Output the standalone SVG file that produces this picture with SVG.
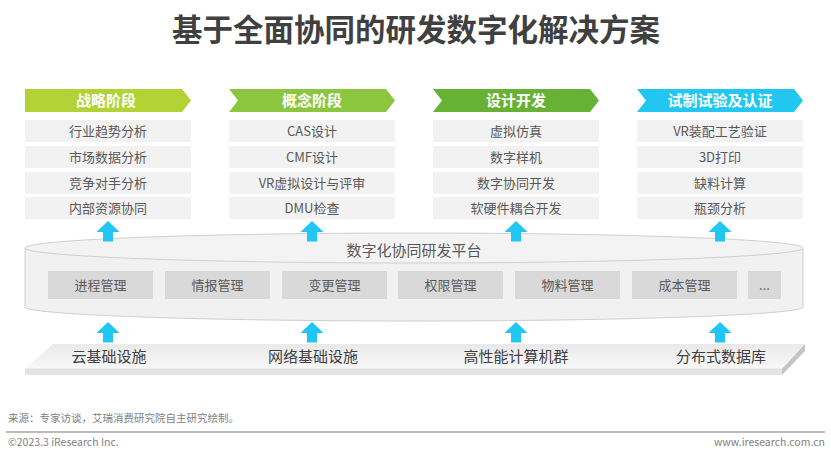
<svg xmlns="http://www.w3.org/2000/svg" xmlns:xlink="http://www.w3.org/1999/xlink" width="831" height="460" viewBox="0 0 831 460">
<style>
text{font-family:"Noto Sans CJK SC","Noto Sans",sans-serif}
.title{font-size:30.5px;font-weight:bold;fill:#404040}
.hd{font-size:15px;font-weight:bold;fill:#fff}
.bx{fill:#f2f2f2}
.bt{font-size:13px;fill:#595959}
.mb{fill:#d9d9d9}
.arr{fill:#1fc7f2}
.sl{font-size:15px;fill:#404040}
.ft{font-size:10.5px;fill:#7f7f7f}
</style>
<defs>
<path id="up" d="M0,0 L11.5,11 L5,11 L5,20.5 L-5,20.5 L-5,11 L-11.5,11 Z"/>
<linearGradient id="slab" x1="0" y1="0" x2="0" y2="1">
<stop offset="0" stop-color="#e9e9e9"/>
<stop offset="1" stop-color="#f8f8f8"/>
</linearGradient>
</defs>
<rect width="831" height="460" fill="#fff"/>
<text class="title" x="416" y="41" text-anchor="middle">基于全面协同的研发数字化解决方案</text>

<g id="col1">
<path d="M25,89 H182 L191,100.5 L182,112 H25 Z" fill="#b3d235"/>
<text class="hd" x="106" y="106" text-anchor="middle">战略阶段</text>
<rect class="bx" x="25" y="120" width="166" height="22"/>
<rect class="bx" x="25" y="146" width="166" height="22"/>
<rect class="bx" x="25" y="172" width="166" height="22"/>
<rect class="bx" x="25" y="197" width="166" height="22"/>
<text class="bt" x="108" y="136" text-anchor="middle">行业趋势分析</text>
<text class="bt" x="108" y="162" text-anchor="middle">市场数据分析</text>
<text class="bt" x="108" y="188" text-anchor="middle">竞争对手分析</text>
<text class="bt" x="108" y="213" text-anchor="middle">内部资源协同</text>
</g>
<g id="col2">
<path d="M229,89 H386 L395,100.5 L386,112 H229 L238,100.5 Z" fill="#8cc63f"/>
<text class="hd" x="312" y="106" text-anchor="middle">概念阶段</text>
<rect class="bx" x="229" y="120" width="166" height="22"/>
<rect class="bx" x="229" y="146" width="166" height="22"/>
<rect class="bx" x="229" y="172" width="166" height="22"/>
<rect class="bx" x="229" y="197" width="166" height="22"/>
<text class="bt" x="312" y="136" text-anchor="middle">CAS设计</text>
<text class="bt" x="312" y="162" text-anchor="middle">CMF设计</text>
<text class="bt" x="312" y="188" text-anchor="middle">VR虚拟设计与评审</text>
<text class="bt" x="312" y="213" text-anchor="middle">DMU检查</text>
</g>
<g id="col3">
<path d="M433,89 H590 L599,100.5 L590,112 H433 L442,100.5 Z" fill="#67b135"/>
<text class="hd" x="516" y="106" text-anchor="middle">设计开发</text>
<rect class="bx" x="433" y="120" width="166" height="22"/>
<rect class="bx" x="433" y="146" width="166" height="22"/>
<rect class="bx" x="433" y="172" width="166" height="22"/>
<rect class="bx" x="433" y="197" width="166" height="22"/>
<text class="bt" x="516" y="136" text-anchor="middle">虚拟仿真</text>
<text class="bt" x="516" y="162" text-anchor="middle">数字样机</text>
<text class="bt" x="516" y="188" text-anchor="middle">数字协同开发</text>
<text class="bt" x="516" y="213" text-anchor="middle">软硬件耦合开发</text>
</g>
<g id="col4">
<path d="M637,89 H794 L803,100.5 L794,112 H637 L646,100.5 Z" fill="#22c7f1"/>
<text class="hd" x="720" y="106" text-anchor="middle">试制试验及认证</text>
<rect class="bx" x="637" y="120" width="166" height="22"/>
<rect class="bx" x="637" y="146" width="166" height="22"/>
<rect class="bx" x="637" y="172" width="166" height="22"/>
<rect class="bx" x="637" y="197" width="166" height="22"/>
<text class="bt" x="720" y="136" text-anchor="middle">VR装配工艺验证</text>
<text class="bt" x="720" y="162" text-anchor="middle">3D打印</text>
<text class="bt" x="720" y="188" text-anchor="middle">缺料计算</text>
<text class="bt" x="720" y="213" text-anchor="middle">瓶颈分析</text>
</g>

<g id="platform">
<path d="M25,248 V307 A389,14 0 0 0 803,307 V248 Z" fill="#f1f1f1" stroke="#cfcfcf" stroke-width="1"/>
<ellipse cx="414" cy="248" rx="389" ry="15" fill="#f3f3f3" stroke="#cfcfcf" stroke-width="1"/>
<text x="414" y="256" font-size="15" fill="#595959" text-anchor="middle">数字化协同研发平台</text>
<rect class="mb" x="48" y="271" width="105" height="28"/>
<rect class="mb" x="165" y="271" width="105" height="28"/>
<rect class="mb" x="282" y="271" width="105" height="28"/>
<rect class="mb" x="398" y="271" width="105" height="28"/>
<rect class="mb" x="515" y="271" width="105" height="28"/>
<rect class="mb" x="632" y="271" width="105" height="28"/>
<rect class="mb" x="748" y="271" width="33" height="28"/>
<text class="bt" x="100.5" y="290" text-anchor="middle">进程管理</text>
<text class="bt" x="217.5" y="290" text-anchor="middle">情报管理</text>
<text class="bt" x="334.5" y="290" text-anchor="middle">变更管理</text>
<text class="bt" x="450.5" y="290" text-anchor="middle">权限管理</text>
<text class="bt" x="567.5" y="290" text-anchor="middle">物料管理</text>
<text class="bt" x="684.5" y="290" text-anchor="middle">成本管理</text>
<text class="bt" x="764.5" y="290" text-anchor="middle">...</text>
</g>

<g id="infrastructure">
<path d="M53,344 H805 L782,369 H25 Z" fill="url(#slab)"/>
<rect x="25" y="369" width="757" height="6" fill="#e4e4e4"/>
<path d="M782,369 L805,344 V351 L782,375 Z" fill="#c4c4c4"/>
<line x1="25" y1="369" x2="782" y2="369" stroke="#dadada" stroke-width="0.8"/>
<text class="sl" x="109" y="362" text-anchor="middle">云基础设施</text>
<text class="sl" x="313" y="362" text-anchor="middle">网络基础设施</text>
<text class="sl" x="516" y="362" text-anchor="middle">高性能计算机群</text>
<text class="sl" x="721" y="362" text-anchor="middle">分布式数据库</text>
</g>

<g id="connectors">
<use href="#up" class="arr" x="108" y="221"/>
<use href="#up" class="arr" x="312" y="221"/>
<use href="#up" class="arr" x="516" y="221"/>
<use href="#up" class="arr" x="720" y="221"/>
<use href="#up" class="arr" x="108" y="322"/>
<use href="#up" class="arr" x="312" y="322"/>
<use href="#up" class="arr" x="516" y="322"/>
<use href="#up" class="arr" x="720" y="322"/>
</g>

<g id="footer">
<text class="ft" x="8" y="422">来源：专家访谈，艾瑞消费研究院自主研究绘制。</text>
<line x1="6" y1="432" x2="825" y2="432" stroke="#a6a6a6" stroke-width="1.5"/>
<text class="ft" x="8" y="446">©2023.3 iResearch Inc.</text>
<text class="ft" x="825" y="446" text-anchor="end">www.iresearch.com.cn</text>
</g>
</svg>
